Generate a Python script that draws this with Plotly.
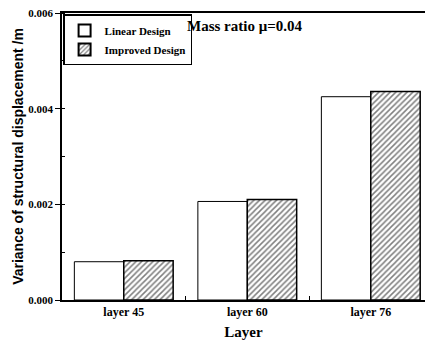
import plotly.graph_objects as go

categories = ["layer 45", "layer 60", "layer 76"]
linear_design = [0.00080, 0.00206, 0.00425]
improved_design = [0.00082, 0.00210, 0.00436]
y_ticks = [0.000, 0.002, 0.004, 0.006]
y_tick_labels = ["0.000", "0.002", "0.004", "0.006"]

serif = "Times New Roman"
sans = "Arial"

fig = go.Figure()
fig.add_trace(go.Bar(
    x=categories, y=linear_design, name="<b>Linear Design</b>",
    marker=dict(color="white", line=dict(color="black", width=1)),
))
fig.add_trace(go.Bar(
    x=categories, y=improved_design, name="<b>Improved Design</b>",
    marker=dict(color="white", line=dict(color="black", width=1.5),
                pattern=dict(shape="/", fgcolor="black", bgcolor="white",
                             size=4, solidity=0.38)),
))

fig.add_annotation(
    text="<b>Mass ratio μ=0.04</b>", xref="paper", yref="paper",
    x=0.34, y=0.955, xanchor="left", yanchor="middle", showarrow=False,
    font=dict(family=serif, size=15, color="black"),
)

fig.update_layout(
    width=425, height=347,
    margin=dict(l=62, r=0, t=13, b=47),
    paper_bgcolor="white", plot_bgcolor="white",
    barmode="group", bargap=0.2, bargroupgap=0,
    showlegend=True,
    legend=dict(x=0.003, y=0.995, xanchor="left", yanchor="top",
                bordercolor="black", borderwidth=1.5, bgcolor="white",
                font=dict(family=serif, size=11, color="black"),
                traceorder="normal", itemsizing="constant",
                tracegroupgap=0, itemwidth=30),
    font=dict(family=serif, color="black"),
)

fig.update_xaxes(
    range=[-0.5, 2.439],
    showline=True, linecolor="black", linewidth=1.5, mirror=True,
    ticks="inside", tickson="boundaries", ticklen=4, tickcolor="black",
    tickfont=dict(family=serif, size=12, color="black"),
    title=dict(text="<b>Layer</b>", font=dict(family=serif, size=15, color="black"), standoff=8),
    showgrid=False,
    tickprefix="<b>", ticksuffix="</b>",
)
fig.update_yaxes(
    range=[0, 0.006],
    tickvals=y_ticks, ticktext=[f"<b>{t}</b>" for t in y_tick_labels],
    showline=True, linecolor="black", linewidth=1.5, mirror=False,
    ticks="outside", ticklen=5, tickcolor="black",
    minor=dict(ticks="inside", ticklen=3, tickcolor="black", dtick=0.001, showgrid=False),
    tickfont=dict(family=serif, size=11, color="black"),
    title=dict(text="<b>Variance of structural displacement /m</b>",
               font=dict(family=sans, size=14, color="black"), standoff=1),
    showgrid=False, zeroline=False,
)

fig.write_html("out.html")
